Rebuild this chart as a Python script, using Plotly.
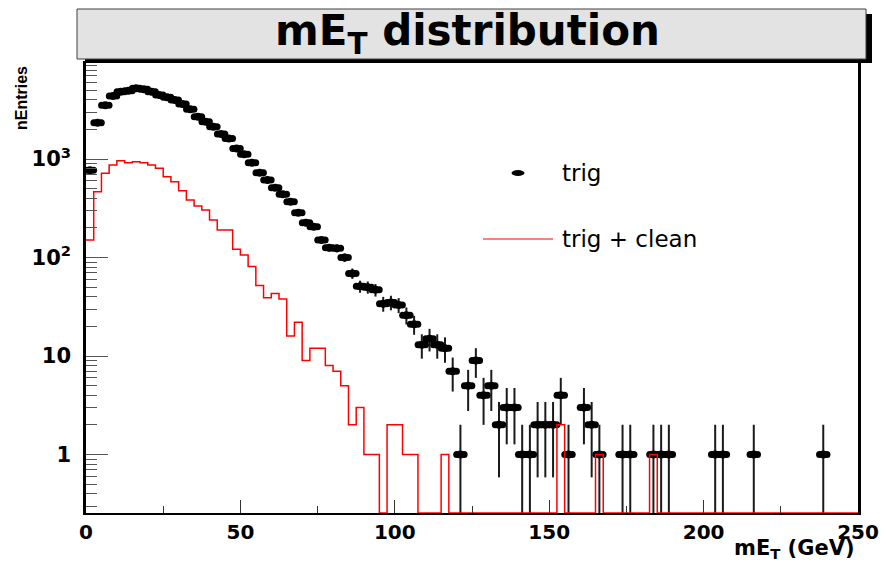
import numpy as np
import plotly.graph_objects as go

# binning of both histograms: 100 bins of 2.5 GeV
MET_MIN, MET_MAX, N_BINS = 0.0, 250.0, 100

# entries per bin, "trig" selection (black points)
trig_counts = [
    770, 2340, 3510, 4360, 4820, 4940, 5220, 5100, 4820, 4460,
    4230, 3970, 3620, 3200, 2690, 2390, 2130, 1790, 1620, 1280,
    1120, 917, 726, 612, 512, 438, 369, 285, 226, 205,
    151, 126, 124, 100, 69, 51, 50, 47, 34, 35,
    33, 26, 21, 13, 15, 13, 12, 7, 1, 5,
    9, 4, 5, 2, 3, 3, 1, 1, 2, 2,
    2, 4, 1, 0, 3, 2, 1, 0, 0, 1,
    1, 0, 0, 1, 1, 1, 0, 0, 0, 0,
    0, 1, 1, 0, 0, 0, 1, 0, 0, 0,
    0, 0, 0, 0, 0, 1, 0, 0, 0, 0,
]

# entries per bin, "trig + clean" selection (red histogram)
clean_counts = [
    151, 466, 716, 869, 961, 917, 939, 917, 869, 805,
    661, 589, 476, 384, 333, 304, 240, 190, 190, 121,
    106, 81, 52, 39, 43, 38, 16, 22, 9, 12,
    12, 8, 7, 5, 2, 3, 1, 1, 0, 2,
    2, 1, 1, 0, 0, 0, 1, 0, 0, 0,
    0, 0, 0, 0, 0, 0, 0, 0, 0, 0,
    0, 2, 0, 0, 0, 0, 1, 0, 0, 0,
    0, 0, 0, 1, 0, 0, 0, 0, 0, 0,
    0, 0, 0, 0, 0, 0, 0, 0, 0, 0,
    0, 0, 0, 0, 0, 0, 0, 0, 0, 0,
]

y_ticks = [1, 10, 100, 1000]
y_tick_text = ["1", "10", "10<sup>2</sup>", "10<sup>3</sup>"]
x_ticks = [0, 50, 100, 150, 200, 250]

# the page body has an 8px margin, so the figure is made 8px smaller
# and every window pixel position below is shifted by that offset
OFF = 8
W, H = 890 - OFF, 562 - OFF
L, R, T, B = 86 - OFF, 890 - 858, 63 - OFF, 562 - 513
Y_LOG_RANGE = [-0.594, 3.975]
BOLD = "DejaVu Sans"


def px_x(p):
  return (p - OFF - L) / (W - L - R)


def px_y(p):
  return (H - B - (p - OFF)) / (H - T - B)


edges = np.linspace(MET_MIN, MET_MAX, N_BINS + 1)
centers = 0.5 * (edges[:-1] + edges[1:])
trig = np.array(trig_counts, dtype=float)
clean = np.array(clean_counts, dtype=float)

# black points (empty bins are not drawn on a log scale)
nz = trig > 0
x_pts = centers[nz]
y_pts = trig[nz]
err = np.sqrt(y_pts)

# red step histogram, empty bins sit on the frame bottom like ROOT does
floor = 10 ** Y_LOG_RANGE[0]
clean_draw = np.where(clean > 0, clean, floor)
step_x = np.append(edges[:-1], edges[-1])
step_y = np.append(clean_draw, clean_draw[-1])

fig = go.Figure()

# ellipse-like points: a centre dot plus two side dots
dx = 1.2
fig.add_trace(go.Scatter(
  x=np.concatenate([x_pts - dx, x_pts + dx]),
  y=np.concatenate([y_pts, y_pts]),
  mode="markers",
  marker=dict(symbol="circle", size=7, color="black", line=dict(width=0)),
  showlegend=False, hoverinfo="skip"
))
fig.add_trace(go.Scatter(
  x=x_pts, y=y_pts,
  mode="markers",
  marker=dict(symbol="circle", size=8, color="black", line=dict(width=0)),
  error_y=dict(type="data", array=err, color="#1a1a1a", thickness=2, width=0),
  name="trig", showlegend=False
))
fig.add_trace(go.Scatter(
  x=step_x, y=step_y,
  mode="lines",
  line=dict(color="#ff0000", width=1.5, shape="hv"),
  name="trig + clean", showlegend=False
))

# title pave with shadow
fig.add_shape(type="rect", xref="paper", yref="paper",
              x0=px_x(85), x1=px_x(872), y0=px_y(63), y1=px_y(14),
              fillcolor="black", line=dict(width=0))
fig.add_shape(type="rect", xref="paper", yref="paper",
              x0=px_x(77), x1=px_x(866), y0=px_y(59), y1=px_y(9),
              fillcolor="#e3e3e3", line=dict(color="#404040", width=1))
fig.add_annotation(text="mE<sub>T</sub> distribution", xref="paper", yref="paper",
                   x=px_x(467), y=px_y(33), xanchor="center", yanchor="middle",
                   showarrow=False,
                   font=dict(family=BOLD, size=42, color="black", weight="bold"))

# legend drawn by hand, no border
fig.add_shape(type="circle", xref="paper", yref="paper",
              x0=px_x(511.5), x1=px_x(524.5), y0=px_y(176), y1=px_y(170),
              fillcolor="black", line=dict(width=0))
fig.add_shape(type="line", xref="paper", yref="paper",
              x0=px_x(483), x1=px_x(553), y0=px_y(239), y1=px_y(239),
              line=dict(color="#ff0000", width=1.2))
for label, ypix in [("trig", 173), ("trig + clean", 239)]:
  fig.add_annotation(text=label, xref="paper", yref="paper",
                     x=px_x(560), y=px_y(ypix), xanchor="left", yanchor="middle",
                     showarrow=False,
                     font=dict(family="DejaVu Sans", size=23, color="black"))

# axis titles
fig.add_annotation(text="mE<sub>T</sub> (GeV)", xref="paper", yref="paper",
                   x=px_x(857), y=px_y(549), xanchor="right", yanchor="middle",
                   showarrow=False,
                   font=dict(family=BOLD, size=21, color="black", weight="bold"))
fig.add_annotation(text="nEntries", xref="paper", yref="paper", textangle=-90,
                   x=px_x(21), y=px_y(64), xanchor="center", yanchor="top",
                   showarrow=False,
                   font=dict(family="Liberation Sans", size=16, color="black",
                             weight="bold"))

fig.update_xaxes(
  range=[MET_MIN, MET_MAX],
  tickmode="array", tickvals=x_ticks,
  ticks="inside", ticklen=13, tickwidth=1, tickcolor="#333",
  minor=dict(ticks="inside", ticklen=7, tickwidth=1, tickcolor="#333",
             tick0=0, dtick=25),
  showline=True, linecolor="black", linewidth=2, mirror=True,
  showgrid=False, zeroline=False, automargin=False,
  tickfont=dict(family=BOLD, size=20, color="black", weight="bold"),
  ticklabelstandoff=0
)
fig.update_yaxes(
  type="log", range=Y_LOG_RANGE,
  tickmode="array", tickvals=y_ticks, ticktext=y_tick_text,
  ticks="inside", ticklen=22, tickwidth=1, tickcolor="#555",
  minor=dict(ticks="inside", ticklen=11, tickwidth=1, tickcolor="#555",
             dtick="D1"),
  showline=True, linecolor="black", linewidth=2.5, mirror=True,
  showgrid=False, zeroline=False, automargin=False,
  tickfont=dict(family=BOLD, size=21, color="black", weight="bold"),
  ticklabelstandoff=8
)

fig.update_layout(
  width=W, height=H,
  margin=dict(l=L, r=R, t=T, b=B, autoexpand=False),
  plot_bgcolor="white", paper_bgcolor="white",
  showlegend=False
)

fig.write_html("out.html")
